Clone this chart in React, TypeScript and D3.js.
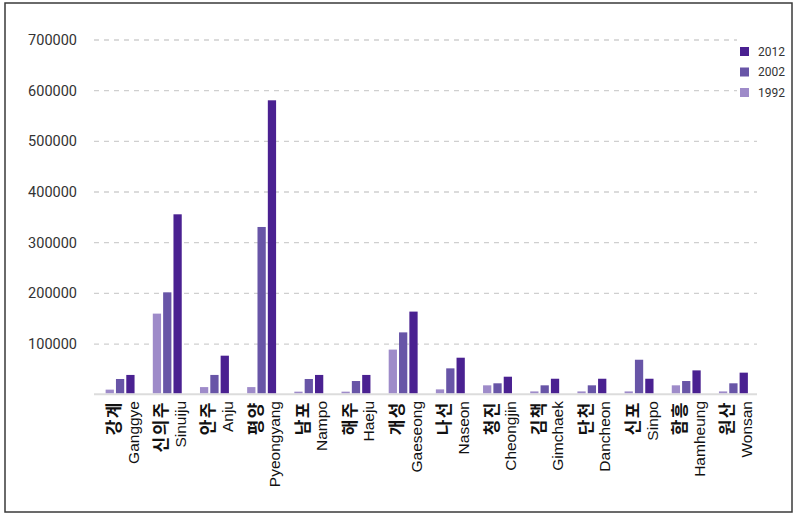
import React from 'react';
import * as d3 from 'd3';

const categoriesKo = ['강계', '신의주', '안주', '평양', '남포', '해주', '개성', '나선', '청진', '김책', '단천', '신포', '함흥', '원산'];
const categoriesEn = ['Ganggye', 'Sinuiju', 'Anju', 'Pyeongyang', 'Nampo', 'Haeju', 'Gaeseong', 'Naseon', 'Cheongjin', 'Gimchaek', 'Dancheon', 'Sinpo', 'Hamheung', 'Wonsan'];
const years = ['1992', '2002', '2012'];
const values1992 = [10000, 160000, 15000, 15000, 6000, 6000, 89000, 10500, 18500, 6500, 6500, 6500, 18500, 6500];
const values2002 = [31000, 202000, 39000, 331000, 31000, 27000, 123000, 52000, 22500, 18500, 18500, 69000, 27000, 22500];
const values2012 = [39000, 356000, 77000, 581000, 39000, 39000, 164000, 73000, 35500, 31500, 31500, 31500, 48000, 43500];
const yTicks = [100000, 200000, 300000, 400000, 500000, 600000, 700000];
const legendYears = ['2012', '2002', '1992'];

const colors: Record<string, string> = {
  '1992': '#9e8bc9',
  '2002': '#6855a7',
  '2012': '#4a2191',
};

export default function App() {
  const W = 800;
  const H = 519;
  const x0 = d3.scaleBand<string>().domain(categoriesEn).range([96.5, 757]).paddingInner(0).paddingOuter(0);
  const bw = x0.bandwidth();
  const x1 = d3
    .scaleBand<string>()
    .domain(years)
    .range([bw / 2 - 15.5, bw / 2 + 15.5])
    .paddingInner(0.2)
    .paddingOuter(0.1);
  const y = d3.scaleLinear().domain([0, 700000]).range([394.7, 40]);
  const series: Record<string, number[]> = { '1992': values1992, '2002': values2002, '2012': values2012 };

  return (
    <svg
      width={W}
      height={H}
      style={{ position: 'absolute', left: 0, top: 0, display: 'block', background: '#fff' }}
    >
      <rect x={5} y={3} width={787} height={509} fill="#fff" stroke="#3a3a3a" strokeWidth={1.5} />
      {yTicks.map((t) => (
        <g key={t}>
          <line x1={94} x2={757} y1={y(t)} y2={y(t)} stroke="#cfcfcf" strokeWidth={1.3} strokeDasharray="5,5" />
          <text
            x={77}
            y={y(t)}
            dy="0.35em"
            textAnchor="end"
            fontFamily="Roboto, 'Liberation Sans', sans-serif"
            fontSize={14.5}
            fill="#333"
          >
            {t}
          </text>
        </g>
      ))}
      <line x1={94} x2={757} y1={y(0) - 0.5} y2={y(0) - 0.5} stroke="#dcdcdc" strokeWidth={2} />
      {categoriesEn.map((c, i) => (
        <g key={c} transform={`translate(${x0(c)},0)`}>
          {years.map((yr) => {
            const v = series[yr][i];
            return (
              <rect
                key={yr}
                x={x1(yr)}
                y={y(v)}
                width={x1.bandwidth()}
                height={y(0) - 1.5 - y(v)}
                fill={colors[yr]}
              />
            );
          })}
        </g>
      ))}
      {categoriesEn.map((c, i) => {
        const cx = (x0(c) as number) + bw / 2;
        return (
          <g key={'lab' + c}>
            <text
              transform={`translate(${cx - 7.5},401) rotate(-90)`}
              textAnchor="end"
              dominantBaseline="central"
              fontFamily="'Noto Sans CJK KR', sans-serif"
              fontWeight={700}
              fontSize={17}
              letterSpacing={1.5}
              fill="#111"
            >
              {categoriesKo[i]}
            </text>
            <text
              transform={`translate(${cx + 13},401) rotate(-90)`}
              textAnchor="end"
              dominantBaseline="central"
              fontFamily="'Liberation Sans', Arial, sans-serif"
              fontSize={15.5}
              fill="#111"
            >
              {categoriesEn[i]}
            </text>
          </g>
        );
      })}
      <rect x={737} y={38} width={52} height={64} fill="#fff" />
      {legendYears.map((yr, i) => (
        <g key={'leg' + yr} transform={`translate(740,${47 + i * 20.5})`}>
          <rect x={0} y={0} width={9} height={9} fill={colors[yr]} />
          <text
            x={18}
            y={4.5}
            dy="0.35em"
            fontFamily="Roboto, 'Liberation Sans', sans-serif"
            fontSize={12}
            fill="#333"
          >
            {yr}
          </text>
        </g>
      ))}
    </svg>
  );
}
